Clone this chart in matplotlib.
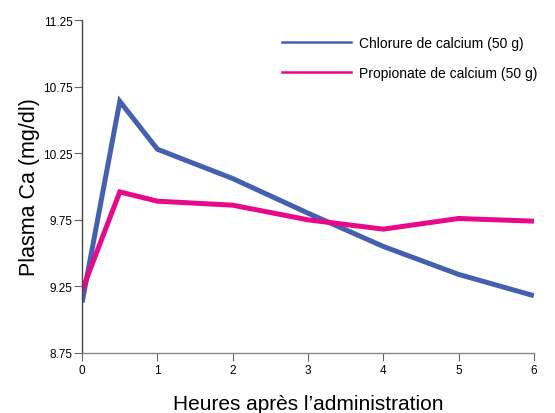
import matplotlib
matplotlib.use("Agg")
import matplotlib.pyplot as plt
from matplotlib.lines import Line2D

plt.rcParams['font.family'] = ['Liberation Sans', 'DejaVu Sans']

hours = [0, 0.5, 1, 2, 3, 4, 5, 6]
chlorure = [9.13, 10.64, 10.28, 10.06, 9.80, 9.55, 9.34, 9.18]
propionate = [9.22, 9.96, 9.89, 9.86, 9.75, 9.68, 9.76, 9.74]
labels = ["Chlorure de calcium (50 g)", "Propionate de calcium (50 g)"]
xticks = [0, 1, 2, 3, 4, 5, 6]
yticks = [8.75, 9.25, 9.75, 10.25, 10.75, 11.25]

blue = "#4361AE"
pink = "#E8088A"

fig = plt.figure(figsize=(5.55, 4.14), dpi=100)
ax = fig.add_axes([0.148, 0.145, 0.814, 0.804])

ax.plot(hours, chlorure, color=blue, lw=3.6, solid_joinstyle='miter', solid_capstyle='butt')
ax.plot(hours, propionate, color=pink, lw=3.6, solid_joinstyle='miter', solid_capstyle='butt')

ax.set_xlim(0, 6)
ax.set_ylim(8.75, 11.25)
ax.set_xticks(xticks)
ax.set_yticks(yticks)
ax.set_xticklabels([str(t) for t in xticks])
ax.set_yticklabels([f"{v:.2f}" for v in yticks])
for s in ['top', 'right']:
    ax.spines[s].set_visible(False)
ax.spines['left'].set_color('#444444')
ax.spines['bottom'].set_color('#888888')
ax.spines['left'].set_linewidth(1.0)
ax.spines['bottom'].set_linewidth(1.0)
ax.tick_params(axis='both', labelsize=8.5, length=6, width=0.8, color='#666666', pad=2)
ax.tick_params(axis='y', pad=1)

ax.set_xlabel("Heures après l’administration", fontsize=15, labelpad=13)
ax.set_ylabel("Plasma Ca (mg/dl)", fontsize=15.5, labelpad=2)

handles = [Line2D([], [], color=blue, lw=1.8), Line2D([], [], color=pink, lw=1.8)]
fig.legend(handles, labels, loc='upper left', bbox_to_anchor=(282 / 555, 1 - 37 / 414),
           frameon=False, fontsize=10, handlelength=5.0, handletextpad=0.55,
           labelspacing=1.15, borderpad=0, borderaxespad=0)

fig.savefig("out.png", dpi=100)
